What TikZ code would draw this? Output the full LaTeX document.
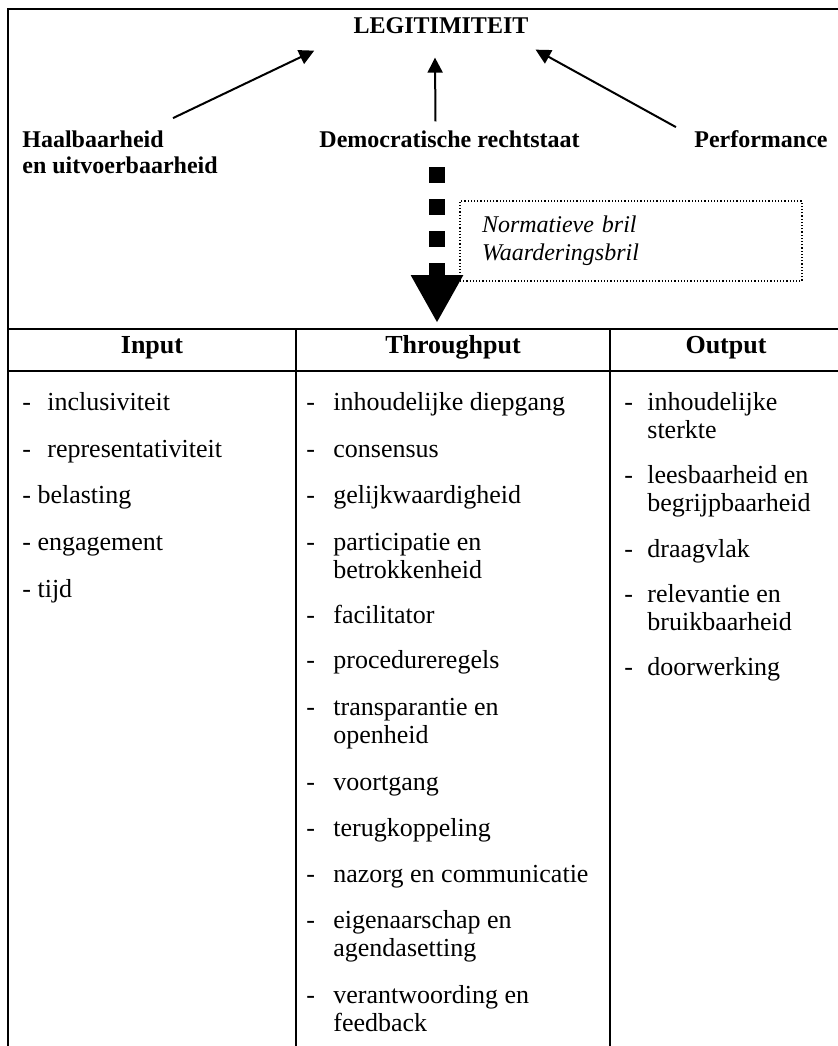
\documentclass[tikz,border=0pt]{standalone}
\usepackage{fontspec}
\setmainfont{Liberation Serif}
\usetikzlibrary{positioning,arrows.meta}

\newcommand{\itemdash}[1]{\makebox[#1][l]{-}}
\newcommand{\twoline}[2]{\begin{tabular}[t]{@{}l@{}}#1\\#2\end{tabular}}

\begin{document}
\begin{tikzpicture}[x=0.5pt, y=-0.5pt,
  lbl/.style={font=\fontsize{12}{13}\selectfont\bfseries, inner sep=0pt},
  hd/.style={font=\fontsize{13}{14}\selectfont\bfseries, inner sep=0pt, anchor=base},
  itm/.style={font=\fontsize{13}{14}\selectfont, inner sep=0pt, anchor=base west},
  rule/.style={line width=1.2pt},
  arr/.style={-{Triangle[length=7.5pt,width=7.5pt]}, line width=1pt},
  bigarr/.style={-{Triangle[length=24pt,width=24.5pt]}, line width=8pt,
                 dash pattern=on 8pt off 8pt},
  bril/.style={draw, densely dotted, line width=0.6pt, text width=149pt,
               align=left, inner xsep=11pt, minimum height=40pt,
               font=\fontsize{12}{14}\selectfont\itshape}]
\useasboundingbox (0,0) rectangle (838,1046);

% ---- legitimiteit and its three sources ----------------------------------
\node[lbl, anchor=base] (LEG) at (441,33) {LEGITIMITEIT};
\node[lbl, anchor=north west, align=left] (HAAL) at (22,130.5) {Haalbaarheid\\en uitvoerbaarheid};
\node[lbl, anchor=base] (DEM) at (449.5,147) {Democratische rechtstaat};
\node[lbl, anchor=base east] (PERF) at (828,147) {Performance};

\draw[arr] ([xshift=75.5pt,yshift=6.2pt]HAAL.north west) -- ([xshift=-19.5pt,yshift=-8.5pt]LEG.south west);
\draw[arr] ([xshift=-7pt,yshift=4.3pt]DEM.north) -- ([xshift=-3pt,yshift=-12pt]LEG.south);
\draw[arr] ([xshift=-9pt,yshift=1.3pt]PERF.north west) -- ([xshift=3.4pt,yshift=-8pt]LEG.south east);

% ---- the glasses ----------------------------------------------------------
\coordinate (dtop) at (437,167);
\coordinate (dtip) at (437,323);
\draw[bigarr] (dtop) -- (dtip);
\node[bril] (BRIL) at (631,241) {Normatieve bril\\Waarderingsbril};

% ---- frame and table rules -----------------------------------------------
\draw[rule] (845,9) -- (8,9) -- (8,1050);
\draw[rule] (8,329) -- (845,329);
\draw[rule] (8,371) -- (845,371);
\draw[rule] (296,329) -- (296,1050);
\draw[rule] (610,329) -- (610,1050);

\node[hd] (hin) at (152,353) {Input};
\node[hd] (hthr) at (453,353) {Throughput};
\node[hd] (hout) at (726,353) {Output};

% ---- criteria per column ---------------------------------------------------
\foreach \y/\t [count=\i] in {410/{\itemdash{12.5pt}inclusiviteit},
    457/{\itemdash{12.5pt}representativiteit}, 503/{- belasting},
    550/{- engagement}, 597/{- tijd}}
  \node[itm] (in\i) at (22,\y) {\t};

\foreach \y/\t [count=\i] in {410/inhoudelijke diepgang, 457/consensus,
    503/gelijkwaardigheid, 550/{\twoline{participatie en}{betrokkenheid}},
    623/facilitator, 668/procedureregels,
    715/{\twoline{transparantie en}{openheid}}, 790/voortgang,
    836/terugkoppeling, 882/nazorg en communicatie,
    928/{\twoline{eigenaarschap en}{agendasetting}},
    1003/{\twoline{verantwoording en}{feedback}}}
  \node[itm] (tp\i) at (306,\y) {\itemdash{13.5pt}\t};

\foreach \y/\t [count=\i] in {410/{\twoline{inhoudelijke}{sterkte}},
    483/{\twoline{leesbaarheid en}{begrijpbaarheid}}, 557/draagvlak,
    602/{\twoline{relevantie en}{bruikbaarheid}}, 675/doorwerking}
  \node[itm] (out\i) at (624,\y) {\itemdash{11.5pt}\t};

\end{tikzpicture}
\end{document}
